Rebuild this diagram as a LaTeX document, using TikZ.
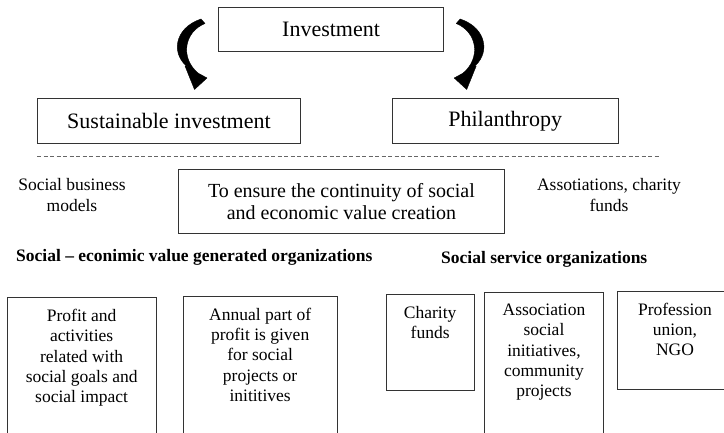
\documentclass[tikz,border=0pt]{standalone}
\usepackage{fontspec}
\setmainfont{Liberation Serif}
\usetikzlibrary{arrows.meta,calc}
\begin{document}
\begin{tikzpicture}[x=1pt,y=-1pt,
  box/.style={draw=black!80, line width=0.9pt, inner sep=0pt, anchor=north west},
  big/.style={font=\fontsize{22}{26}\selectfont},
  mid/.style={font=\fontsize{20}{22}\selectfont, align=center},
  small/.style={font=\fontsize{17.5}{21}\selectfont, align=center, inner sep=0pt},
  boxtext/.style={font=\fontsize{17.5}{20.3}\selectfont, align=center, inner sep=0pt, anchor=north},
  bold/.style={font=\fontsize{17.5}{20}\selectfont\bfseries, anchor=west, inner sep=0pt},
  carrow/.style={fill=black, draw=black, line width=0.4pt, line join=round},
  sep/.style={draw=black!60, line width=1pt, dash pattern=on 4pt off 2.5pt},
]
\clip (0,0) rectangle (724,433);
\fill[white] (0,0) rectangle (724,433);

% top level
\node[box, big, minimum width=224.7pt, minimum height=44.3pt] (inv) at (218.3,6.7) {Investment};
\node[box, big, minimum width=263pt, minimum height=44.4pt] (sus) at (37,98.3) {Sustainable investment};
\node[box, big, minimum width=225.5pt, minimum height=44.4pt] (phi) at (392,98.3) {Philanthropy};

% curved block arrows
\path[carrow] (201,19) .. controls (174,28) and (170,55) .. (189.4,68.4)
  -- (185,66) -- (194.5,89.5) -- (207,78) -- (198.2,73.2)
  .. controls (180,58) and (184,32) .. (205,23.5) -- cycle;
\path[carrow] (460.2,19) .. controls (487.2,28) and (491.2,55) .. (471.8,68.4)
  -- (476.2,66) -- (466.7,89.5) -- (454.2,78) -- (463,73.2)
  .. controls (481.2,58) and (477.2,32) .. (456.2,23.5) -- cycle;

% separator
\coordinate (dl) at (37,157);
\coordinate (dr) at (660,157);
\draw[sep] (dl) -- (dr);

% middle band
\node[small] (sbm) at (72,195.5) {Social business\\models};
\node[box, mid, minimum width=326pt, minimum height=63.7pt] (goal) at (178,169.3)
  {To ensure the continuity of social\\and economic value creation};
\node[small] (acf) at (609,195.5) {Assotiations, charity\\funds};

\node[bold] (sev) at (16,257) {Social – econimic value generated organizations};
\node[bold] (sso) at (441,259) {Social service organizations};

% bottom boxes
\node[box, minimum width=149pt, minimum height=200pt] (b1) at (6.7,297.3) {};
\node[box, minimum width=154pt, minimum height=200pt] (b2) at (182.7,296) {};
\node[box, minimum width=88pt, minimum height=96pt] (b3) at (385.7,294) {};
\node[box, minimum width=118.4pt, minimum height=200pt] (b4) at (484.3,292) {};
\node[box, minimum width=130pt, minimum height=98.3pt] (b5) at (616.7,291) {};

\node[boxtext] (t1) at ($(b1.north)+(0,11.7)$) {Profit and\\activities\\related with\\social goals and\\social impact};
\node[boxtext] (t2) at ($(b2.north)+(0,11.7)$) {Annual part of\\profit is given\\for social\\projects or\\inititives};
\node[boxtext] (t3) at ($(b3.north)+(0,11.7)$) {Charity\\funds};
\node[boxtext] (t4) at ($(b4.north)+(0,11.7)$) {Association\\social\\initiatives,\\community\\projects};
\node[boxtext] (t5) at (675,302.7) {Profession\\union,\\NGO};
\end{tikzpicture}
\end{document}
